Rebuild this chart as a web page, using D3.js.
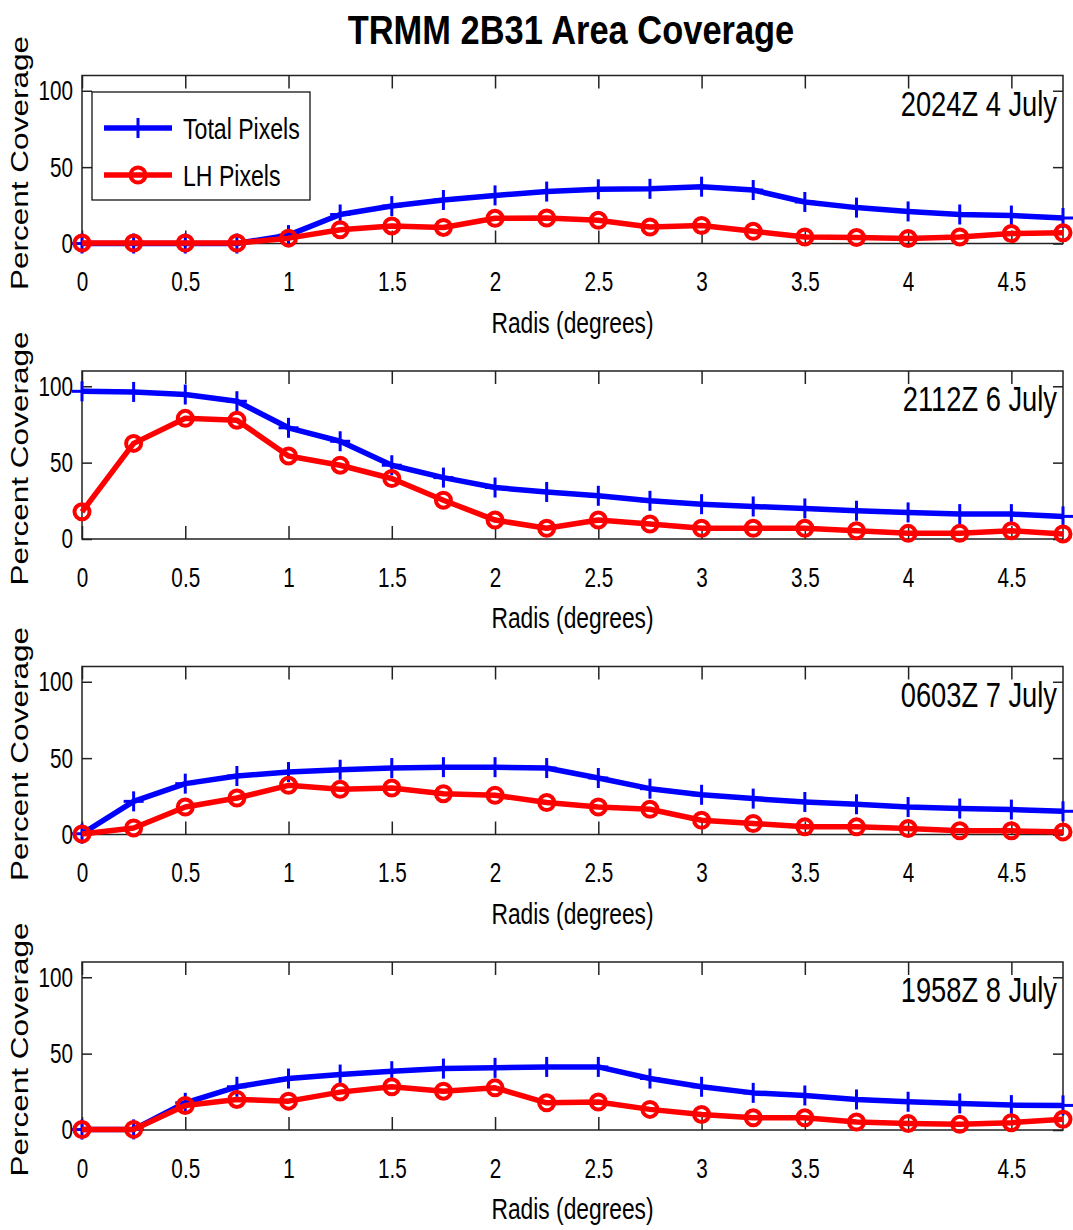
<!DOCTYPE html>
<html>
<head>
<meta charset="utf-8">
<script src="https://cdn.jsdelivr.net/npm/d3@7"></script>
<style>
  html, body { margin: 0; padding: 0; background: #fff; }
  svg { display: block; }
  text { font-family: "Liberation Sans", Arial, Helvetica, sans-serif; }
</style>
</head>
<body>
<svg id="chart" width="1073" height="1230"></svg>
<script>
// ---------- data ----------
const radii = [0, 0.25, 0.5, 0.75, 1, 1.25, 1.5, 1.75, 2, 2.25, 2.5, 2.75, 3, 3.25, 3.5, 3.75, 4, 4.25, 4.5, 4.75];
const panelLabels = ["2024Z 4 July", "2112Z 6 July", "0603Z 7 July", "1958Z 8 July"];
const seriesNames = ["Total Pixels", "LH Pixels"];
const xTicks = [0, 0.5, 1, 1.5, 2, 2.5, 3, 3.5, 4, 4.5];
const yTicks = [0, 50, 100];

const totalJul4 = [0, 0, 0, 0, 5.5, 19, 24.5, 28.5, 31.5, 34, 35.5, 35.8, 37.2, 35, 27.2, 23.5, 21, 19, 18.3, 16.7];
const lhJul4    = [0.3, 0.3, 0.3, 0.3, 3.5, 9, 11.5, 10.5, 16.5, 16.7, 15.2, 10.8, 11.8, 8, 4.3, 3.9, 3.3, 4.3, 6.5, 7];

const totalJul6 = [96.7, 96.3, 94.6, 90.2, 72.8, 64, 48.3, 40.2, 33.7, 30.8, 28.3, 25, 22.8, 21.3, 20, 18.5, 17.4, 16.3, 16.3, 14.8];
const lhJul6    = [17.8, 62.6, 79, 77.8, 54.3, 48.3, 39.6, 25.4, 12.4, 7, 12.4, 9.8, 7, 7, 7, 5.4, 3.7, 3.7, 5.4, 3.3];

const totalJul7 = [0.5, 21.7, 33.3, 38.3, 40.9, 42.4, 43.5, 44.1, 44.1, 43.5, 37, 30, 26, 23.5, 21.3, 19.8, 18, 17, 16.3, 15.2];
const lhJul7    = [0.3, 4.3, 18, 23.9, 32.2, 29.6, 30.4, 26.7, 25.7, 20.9, 18, 16.5, 9.3, 7.2, 5, 5, 3.9, 2.4, 2.4, 1.7];

const totalJul8 = [0.3, 0.4, 17.8, 28.3, 33.7, 36.3, 38.5, 40.2, 40.7, 41.3, 41.3, 33.7, 28.3, 24.3, 22.6, 20, 18.5, 17.4, 16.3, 16.1];
const lhJul8    = [0.3, 0.4, 16.1, 20, 18.9, 24.8, 28.3, 25.4, 27.6, 17.8, 18.3, 13.5, 10.2, 8, 8, 5.2, 4.3, 3.7, 4.8, 7];

const totals = [totalJul4, totalJul6, totalJul7, totalJul8];
const lhs = [lhJul4, lhJul6, lhJul7, lhJul8];

// ---------- layout ----------
const svg = d3.select("#chart");
const left = 82, right = 1063;
const panelH = 168;
const panelTops = [75.5, 371, 666.5, 962];
const blue = "#0000ff", red = "#ff0000";

const x = d3.scaleLinear().domain([0, 4.75]).range([left, right]);

// condensed text helper: horizontal squeeze about the text anchor point
function condensedText(parent, tx, ty, sx, str) {
  return parent.append("text")
    .attr("transform", `translate(${tx},${ty}) scale(${sx},1)`)
    .text(str);
}
function condenseAxisText(sel, sx) {
  sel.each(function () {
    const t = d3.select(this);
    const xx = +t.attr("x") || 0;
    t.attr("x", xx / sx).attr("transform", `scale(${sx},1)`);
  });
}

condensedText(svg, 571, 44, 0.84, "TRMM 2B31 Area Coverage")
  .attr("text-anchor", "middle").attr("font-size", 41).attr("font-weight", "bold");

function plus(g, cx, cy, color) {
  g.append("line").attr("x1", cx - 10).attr("x2", cx + 10).attr("y1", cy).attr("y2", cy)
    .attr("stroke", color).attr("stroke-width", 3);
  g.append("line").attr("x1", cx).attr("x2", cx).attr("y1", cy - 10).attr("y2", cy + 10)
    .attr("stroke", color).attr("stroke-width", 3);
}
function circ(g, cx, cy, color) {
  g.append("circle").attr("cx", cx).attr("cy", cy).attr("r", 7.5)
    .attr("fill", "none").attr("stroke", color).attr("stroke-width", 4);
}

panelTops.forEach((top, i) => {
  const bottom = top + panelH;
  const y = d3.scaleLinear().domain([0, 110]).range([bottom, top]);
  const g = svg.append("g");

  // axes (ticks point inward)
  const xb = g.append("g").attr("transform", `translate(0,${bottom})`)
    .call(d3.axisBottom(x).tickValues(xTicks).tickSizeInner(-13).tickSizeOuter(0).tickPadding(28).tickFormat(d3.format("")));
  const xt = g.append("g").attr("transform", `translate(0,${top})`)
    .call(d3.axisTop(x).tickValues(xTicks).tickSizeInner(-13).tickSizeOuter(0).tickFormat(""));
  const yl = g.append("g").attr("transform", `translate(${left},0)`)
    .call(d3.axisLeft(y).tickValues(yTicks).tickSizeInner(-10).tickSizeOuter(0).tickPadding(9));
  const yr = g.append("g").attr("transform", `translate(${right},0)`)
    .call(d3.axisRight(y).tickValues(yTicks).tickSizeInner(-10).tickSizeOuter(0).tickFormat(""));
  [xb, xt, yl, yr].forEach(a => {
    a.select(".domain").remove();
    a.selectAll(".tick line").attr("stroke", "#222").attr("stroke-width", 1.5);
    a.selectAll("text").attr("font-size", 28).attr("fill", "#000").attr("font-family", null);
    condenseAxisText(a.selectAll("text"), 0.74);
  });

  // box
  g.append("rect").attr("x", left).attr("y", top).attr("width", right - left).attr("height", panelH)
    .attr("fill", "none").attr("stroke", "#222").attr("stroke-width", 1.5);

  // lines
  const line = d3.line().x((d, k) => x(radii[k])).y(d => y(d));
  g.append("path").datum(totals[i]).attr("d", line).attr("fill", "none")
    .attr("stroke", blue).attr("stroke-width", 5.5).attr("stroke-linejoin", "round");
  totals[i].forEach((v, k) => plus(g, x(radii[k]), y(v), blue));
  g.append("path").datum(lhs[i]).attr("d", line).attr("fill", "none")
    .attr("stroke", red).attr("stroke-width", 5.5).attr("stroke-linejoin", "round");
  lhs[i].forEach((v, k) => circ(g, x(radii[k]), y(v), red));

  // annotation
  condensedText(g, right - 6, top + 40, 0.78, panelLabels[i])
    .attr("text-anchor", "end").attr("font-size", 35);

  // axis labels
  condensedText(g, (left + right) / 2, bottom + 89, 0.76, "Radis (degrees)")
    .attr("text-anchor", "middle").attr("font-size", 30);
  g.append("text")
    .attr("transform", `translate(28,${(top + bottom) / 2 + 3.5}) rotate(-90)`)
    .attr("text-anchor", "middle").attr("font-size", 24)
    .attr("textLength", 254).attr("lengthAdjust", "spacingAndGlyphs")
    .text("Percent Coverage");

  // legend (first panel only)
  if (i === 0) {
    const lg = g.append("g");
    lg.append("rect").attr("x", 92).attr("y", 92).attr("width", 218).attr("height", 108)
      .attr("fill", "#fff").attr("stroke", "#000").attr("stroke-width", 1.2);
    const rows = [{ name: seriesNames[0], color: blue, yy: 128, m: plus },
                  { name: seriesNames[1], color: red, yy: 175, m: circ }];
    rows.forEach(r => {
      lg.append("line").attr("x1", 104).attr("x2", 172).attr("y1", r.yy).attr("y2", r.yy)
        .attr("stroke", r.color).attr("stroke-width", 5.5);
      r.m(lg, 138, r.yy, r.color);
      condensedText(lg, 183, r.yy + 11, 0.77, r.name).attr("font-size", 30);
    });
  }
});
</script>
</body>
</html>
